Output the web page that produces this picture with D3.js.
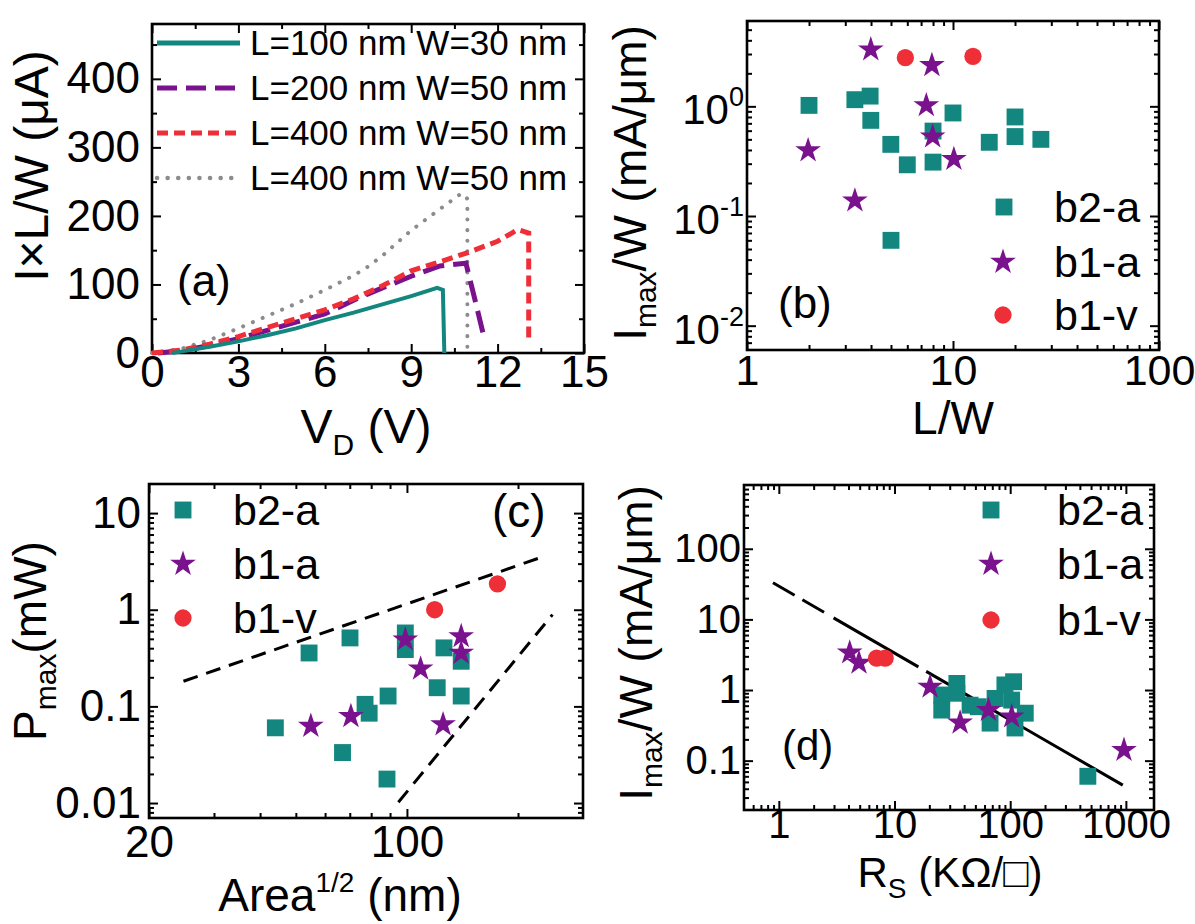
<!DOCTYPE html>
<html>
<head>
<meta charset="utf-8">
<script src="https://cdn.jsdelivr.net/npm/d3@7"></script>
<style>
  body { margin: 0; background: #fff; }
  svg text { font-family: "Liberation Sans", Arial, Helvetica, sans-serif; fill: #000; }
</style>
</head>
<body>
<svg id="fig" width="1195" height="924"></svg>
<script>
// ---------- data ----------

// (a) I x L/W vs V_D
const legendA = ["L=100 nm W=30 nm", "L=200 nm W=50 nm", "L=400 nm W=50 nm", "L=400 nm W=50 nm"];
const voltTeal = [0.7, 1, 2, 3, 4, 5, 6, 7, 8, 9, 9.9, 10.1, 10.15];
const currTeal = [0, 2, 9, 17, 26, 36, 48, 59, 71, 83, 95, 92, 0];
const voltPurple = [0.2, 1, 2, 3, 4, 5, 6, 7, 8, 9, 10, 10.9, 11.2, 11.5];
const currPurple = [0, 3, 11, 21, 33, 45, 57, 77, 95, 112, 127, 131, 80, 28];
const voltRed = [0, 1, 2, 3, 4, 5, 6, 7, 8, 9, 10, 11, 12, 12.7, 13.08, 13.08];
const currRed = [0, 4, 13, 24, 37, 50, 63, 79, 98, 120, 133, 147, 163, 180, 175, 16];
const voltGray = [0, 1, 2, 3, 4, 5, 6, 7, 7.5, 8, 9, 10, 10.75, 10.95, 10.95];
const currGray = [0, 6, 19, 36, 54, 72, 92, 113, 126, 142, 179, 210, 233, 225, 0];

// (b) Imax/W vs L/W
const b2aLW = [2.0, 3.34, 3.96, 3.99, 4.99, 6.0, 8.0, 8.0, 10.0, 15.0, 20, 20, 26.7, 5.0];
const b2aIb = [1.02, 1.15, 1.24, 0.745, 0.45, 0.293, 0.595, 0.31, 0.87, 0.47, 0.80, 0.53, 0.50, 0.060];
const b1aLW = [3.99, 7.9, 7.42, 7.97, 10.1, 1.98, 3.34];
const b1aIb = [3.29, 2.37, 1.02, 0.53, 0.33, 0.396, 0.138];
const b1vLW = [5.87, 12.5];
const b1vIb = [2.78, 2.86];

// (c) Pmax vs Area^1/2
const b2aArea = [44.0, 54.3, 70.1, 66.9, 77, 79, 88.9, 88.3, 99, 99, 120.8, 126, 140.3, 140.3];
const b2aP = [0.060, 0.357, 0.511, 0.0333, 0.105, 0.085, 0.128, 0.0177, 0.575, 0.387, 0.156, 0.403, 0.293, 0.128];
const b1aArea = [54.9, 70.5, 99, 108.9, 125.3, 140.3, 140.3];
const b1aP = [0.0626, 0.079, 0.49, 0.245, 0.065, 0.53, 0.357];
const b1vArea = [118.9, 175.9];
const b1vP = [1.0, 1.85];
const upperArea = [24.8, 234], upperP = [0.182, 3.54];
const lowerArea = [94.8, 248], lowerP = [0.0102, 0.89];

// (d) Imax/W vs Rs
const b2aRs = [25.6, 25.6, 34.6, 34.6, 45, 53, 67, 74, 90, 107, 103, 110, 135, 469];
const b2aId = [0.85, 0.52, 1.24, 0.90, 0.61, 0.58, 0.34, 0.76, 1.18, 1.31, 0.72, 0.29, 0.47, 0.060];
const b1aRs = [4.1, 4.93, 20.3, 36.9, 64.9, 103, 963];
const b1aId = [3.38, 2.42, 1.11, 0.344, 0.52, 0.42, 0.141];
const b1vRs = [7.0, 8.3];
const b1vId = [2.82, 2.82];
const fitRs = [0.89, 940], fitI = [33, 0.045];

const seriesNames = ["b2-a", "b1-a", "b1-v"];

// ---------- styling ----------
const TEAL = "#13877f", PURPLE = "#7a128e", RED = "#ef2f38", GRAY = "#8c8c8c";
const svg = d3.select("#fig");

const sym = {
  square: d3.symbol(d3.symbolSquare, 285)(),
  star: d3.symbol(d3.symbolStar, 205)(),
  circle: d3.symbol(d3.symbolCircle, 235)()
};

function addAxes(g, x, y, w, h, o) {
  const mk = (axis, tr, vals, size, fmt, pad, fs) => {
    const a = g.append("g").attr("transform", tr)
      .call(axis.tickValues(vals).tickSize(size).tickPadding(pad || 0).tickFormat(fmt || ""));
    a.select(".domain").remove();
    a.selectAll("line").attr("stroke", "#000").attr("stroke-width", 2);
    a.selectAll("text").attr("font-size", fs || 44).attr("fill", "#000")
      .attr("font-family", '"Liberation Sans", Arial, sans-serif');
    return a;
  };
  mk(d3.axisBottom(x), `translate(0,${h})`, o.xMinor, -5);
  mk(d3.axisTop(x), "translate(0,0)", o.xMinor, -5);
  mk(d3.axisLeft(y), "translate(0,0)", o.yMinor, -5);
  mk(d3.axisRight(y), `translate(${w},0)`, o.yMinor, -5);
  mk(d3.axisBottom(x), `translate(0,${h})`, o.xMajor, -9, o.xFmt, o.xPad, o.fs);
  mk(d3.axisTop(x), "translate(0,0)", o.xMajor, -9);
  mk(d3.axisLeft(y), "translate(0,0)", o.yMajor, -9, o.yFmt, o.yPad, o.fs);
  mk(d3.axisRight(y), `translate(${w},0)`, o.yMajor, -9);
  g.append("rect").attr("width", w).attr("height", h)
    .attr("fill", "none").attr("stroke", "#000").attr("stroke-width", 2.6);
}

function logMinor(lo, hi) {
  const out = [];
  for (let e = -3; e <= 4; e++) {
    for (let m = 2; m <= 9; m++) {
      const v = m * Math.pow(10, e);
      if (v > lo * 1.0001 && v < hi * 0.9999) out.push(v);
    }
  }
  return out;
}

function scatter(g, x, y, xs, ys, shape, color) {
  g.selectAll(null).data(d3.zip(xs, ys)).enter().append("path")
    .attr("d", sym[shape]).attr("fill", color)
    .attr("transform", d => `translate(${x(d[0])},${y(d[1])})`);
}

function yTitle(cx, cy, parts, fs) {
  const t = svg.append("text").attr("transform", `translate(${cx},${cy}) rotate(-90)`)
    .attr("text-anchor", "middle").attr("font-size", fs);
  parts.forEach(p => {
    const s = t.append("tspan").text(p.t);
    if (p.fs) s.attr("font-size", p.fs);
    if (p.dy) s.attr("dy", p.dy);
  });
}

function xTitle(cx, cy, parts, fs) {
  const t = svg.append("text").attr("x", cx).attr("y", cy)
    .attr("text-anchor", "middle").attr("font-size", fs);
  parts.forEach(p => {
    const s = t.append("tspan").text(p.t);
    if (p.fs) s.attr("font-size", p.fs);
    if (p.dy) s.attr("dy", p.dy);
  });
}

function legendMarkers(pos, textX) {
  const shapes = ["square", "star", "circle"], cols = [TEAL, PURPLE, RED];
  pos.forEach((p, i) => {
    svg.append("path").attr("d", sym[shapes[i]]).attr("fill", cols[i])
      .attr("transform", `translate(${p[0]},${p[1]})`);
    svg.append("text").attr("x", textX).attr("y", p[1] + 15)
      .attr("font-size", 43).text(seriesNames[i]);
  });
}

// ---------- panel (a) ----------
{
  const L = 152, T = 24, W = 432, H = 329;
  const g = svg.append("g").attr("transform", `translate(${L},${T})`);
  const x = d3.scaleLinear().domain([0, 15]).range([0, W]);
  const y = d3.scaleLinear().domain([0, 480]).range([H, 0]);
  addAxes(g, x, y, W, H, {
    xMajor: d3.range(0, 16, 3), xMinor: d3.range(1.5, 15, 3),
    yMajor: d3.range(0, 401, 100), yMinor: d3.range(50, 480, 100),
    xFmt: d3.format("d"), yFmt: d3.format("d"), xPad: 3, yPad: 12
  });
  const line = d3.line().x(d => x(d[0])).y(d => y(d[1]));
  const curves = [
    [voltGray, currGray, GRAY, 4, "0.1 10.5"],
    [voltPurple, currPurple, PURPLE, 5, "22 9"],
    [voltRed, currRed, RED, 5, "11 6"],
    [voltTeal, currTeal, TEAL, 4, null]
  ];
  curves.forEach(c => {
    g.append("path").attr("d", line(d3.zip(c[0], c[1])))
      .attr("fill", "none").attr("stroke", c[2]).attr("stroke-width", c[3])
      .attr("stroke-linecap", c[4] && c[4].startsWith("0.1") ? "round" : "butt")
      .attr("stroke-dasharray", c[4]);
  });
  // legend
  const lg = [[TEAL, 5, null], [PURPLE, 5, "20 9"], [RED, 5, "11 6"], [GRAY, 4.5, "0.1 10.5"]];
  legendA.forEach((txt, i) => {
    const yy = 43 + i * 45;
    svg.append("line").attr("x1", 157).attr("x2", 240).attr("y1", yy).attr("y2", yy)
      .attr("stroke", lg[i][0]).attr("stroke-width", lg[i][1])
      .attr("stroke-dasharray", lg[i][2])
      .attr("stroke-linecap", i === 3 ? "round" : "butt");
    svg.append("text").attr("x", 250).attr("y", yy + 12).attr("font-size", 35).text(txt);
  });
  svg.append("text").attr("x", 177).attr("y", 296).attr("font-size", 44).text("(a)");
  yTitle(48, 166, [{ t: "I×L/W (μA)" }], 48);
  xTitle(366, 443, [{ t: "V" }, { t: "D", fs: 30, dy: 12 }, { t: " (V)", dy: -12 }], 48);
}

// ---------- panel (b) ----------
{
  const L = 747, T = 21, W = 412, H = 329;
  const g = svg.append("g").attr("transform", `translate(${L},${T})`);
  const x = d3.scaleLog().domain([1, 100]).range([0, W]);
  const y = d3.scaleLog().domain([0.006, 6]).range([H, 0]);
  addAxes(g, x, y, W, H, {
    xMajor: [1, 10, 100], xMinor: logMinor(1, 100),
    yMajor: [0.01, 0.1, 1], yMinor: logMinor(0.006, 6),
    xFmt: d => String(d), yFmt: "", xPad: 4, fs: 43
  });
  [[1, "0"], [0.1, "-1"], [0.01, "-2"]].forEach(d => {
    const t = svg.append("text").attr("x", L - 3).attr("y", T + y(d[0]) + 18)
      .attr("text-anchor", "end").attr("font-size", 42);
    t.append("tspan").text("10");
    t.append("tspan").attr("font-size", 27).attr("dy", -18).text(d[1]);
  });
  scatter(g, x, y, b2aLW, b2aIb, "square", TEAL);
  scatter(g, x, y, b1aLW, b1aIb, "star", PURPLE);
  scatter(g, x, y, b1vLW, b1vIb, "circle", RED);
  legendMarkers([[1004, 207], [1003, 262], [1003, 315]], 1054);
  svg.append("text").attr("x", 778).attr("y", 318).attr("font-size", 44).text("(b)");
  yTitle(646, 183, [{ t: "I" }, { t: "max", fs: 30, dy: 10 }, { t: "/W (mA/μm)", dy: -10 }], 46);
  xTitle(953, 434, [{ t: "L/W" }], 46);
}

// ---------- panel (c) ----------
{
  const L = 149, T = 484, W = 434, H = 334;
  const g = svg.append("g").attr("transform", `translate(${L},${T})`);
  const x = d3.scaleLog().domain([20, 300]).range([0, W]);
  const y = d3.scaleLog().domain([0.007, 20]).range([H, 0]);
  addAxes(g, x, y, W, H, {
    xMajor: [20, 100], xMinor: logMinor(20, 300),
    yMajor: [0.01, 0.1, 1, 10], yMinor: logMinor(0.007, 20),
    xFmt: d => String(d), yFmt: d => String(d), xPad: 8, yPad: 8
  });
  const line = d3.line().x(d => x(d[0])).y(d => y(d[1]));
  [[upperArea, upperP], [lowerArea, lowerP]].forEach(b => {
    g.append("path").attr("d", line(d3.zip(b[0], b[1])))
      .attr("fill", "none").attr("stroke", "#000").attr("stroke-width", 3)
      .attr("stroke-dasharray", "15 9");
  });
  scatter(g, x, y, b2aArea, b2aP, "square", TEAL);
  scatter(g, x, y, b1aArea, b1aP, "star", PURPLE);
  scatter(g, x, y, b1vArea, b1vP, "circle", RED);
  legendMarkers([[183, 510], [183, 564], [183, 618]], 233);
  svg.append("text").attr("x", 492).attr("y", 527).attr("font-size", 46).text("(c)");
  yTitle(46, 641, [{ t: "P" }, { t: "max", fs: 30, dy: 10 }, { t: "(mW)", dy: -10 }], 46);
  xTitle(340, 911, [{ t: "Area" }, { t: "1/2", fs: 28, dy: -19 }, { t: " (nm)", dy: 19 }], 46);
}

// ---------- panel (d) ----------
{
  const L = 744, T = 485, W = 410, H = 325;
  const g = svg.append("g").attr("transform", `translate(${L},${T})`);
  const x = d3.scaleLog().domain([0.5, 1750]).range([0, W]);
  const y = d3.scaleLog().domain([0.02, 800]).range([H, 0]);
  addAxes(g, x, y, W, H, {
    xMajor: [1, 10, 100, 1000], xMinor: logMinor(0.5, 1750),
    yMajor: [0.1, 1, 10, 100], yMinor: logMinor(0.02, 800),
    xFmt: d => String(d), yFmt: d => String(d), xPad: 0, yPad: 3, fs: 40
  });
  const line = d3.line().x(d => x(d[0])).y(d => y(d[1]));
  g.append("path").attr("d", line(d3.zip(fitRs, fitI)))
    .attr("fill", "none").attr("stroke", "#000").attr("stroke-width", 3)
    .attr("stroke-dasharray", "25 9 25 11 98 9 2000");
  scatter(g, x, y, b2aRs, b2aId, "square", TEAL);
  scatter(g, x, y, b1aRs, b1aId, "star", PURPLE);
  scatter(g, x, y, b1vRs, b1vId, "circle", RED);
  legendMarkers([[991, 510], [991, 564], [991, 620]], 1057);
  svg.append("text").attr("x", 782).attr("y", 760).attr("font-size", 42).text("(d)");
  yTitle(652, 643, [{ t: "I" }, { t: "max", fs: 30, dy: 10 }, { t: "/W (mA/μm)", dy: -10 }], 46);
  xTitle(950, 887, [{ t: "R" }, { t: "S", fs: 28, dy: 11 }, { t: " (KΩ/□)", dy: -11 }], 42);
}
</script>
</body>
</html>
